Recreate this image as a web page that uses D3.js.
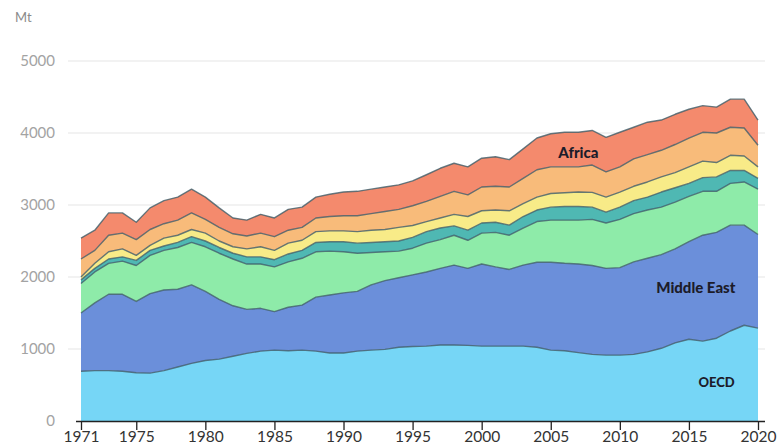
<!DOCTYPE html>
<html>
<head>
<meta charset="utf-8">
<script src="https://cdn.jsdelivr.net/npm/d3@7"></script>
<style>
    body { margin: 0; background: #fff; }
    svg { display: block; font-family: Lato, "Open Sans", sans-serif; }
</style>
</head>
<body>
<svg width="777" height="446"></svg>
<script>
// Crude oil production by region, Mt
var years = d3.range(1971, 2021);

var oecd = [690, 700, 700, 690, 670, 665, 700, 750, 800, 840, 860, 900, 940, 970, 985, 975, 985, 970, 945, 945,
    970, 985, 995, 1025, 1035, 1040, 1055, 1055, 1050, 1040, 1040, 1040, 1040, 1025, 985, 975, 950, 925, 915, 915,
    925, 960, 1010, 1085, 1135, 1110, 1150, 1250, 1330, 1290];
var middleEast = [810, 940, 1060, 1070, 990, 1105, 1120, 1080, 1090, 960, 830, 700, 610, 595, 535, 605, 625, 750, 805, 835,
    830, 905, 955, 965, 995, 1030, 1065, 1110, 1070, 1140, 1100, 1065, 1125, 1180, 1220, 1215, 1230, 1235, 1205, 1215,
    1285, 1300, 1300, 1305, 1355, 1470, 1470, 1470, 1390, 1300];
var eurasia = [410, 430, 430, 460, 500, 530, 550, 580, 590, 620, 640, 650, 630, 615, 620, 630, 650, 630, 610, 570,
    530, 450, 400, 370, 370, 400, 400, 415, 390, 430, 480, 475, 515, 565, 585, 600, 610, 640, 630, 670,
    670, 670, 660, 650, 630, 610, 570, 580, 600, 630];
var china = [50, 50, 60, 60, 70, 70, 60, 70, 80, 80, 80, 80, 100, 100, 100, 110, 110, 130, 130, 140,
    140, 140, 140, 140, 150, 160, 160, 130, 140, 140, 140, 140, 160, 160, 180, 190, 190, 170, 150, 170,
    180, 180, 210, 200, 180, 190, 200, 180, 160, 150];
var asia = [40, 70, 100, 110, 70, 70, 110, 100, 100, 110, 90, 90, 110, 140, 130, 150, 140, 150, 150, 150,
    160, 170, 170, 190, 165, 140, 140, 160, 190, 170, 170, 200, 180, 180, 190, 190, 200, 205, 210, 210,
    200, 210, 210, 210, 230, 230, 200, 210, 200, 160];
var americas = [250, 180, 230, 220, 220, 220, 200, 210, 230, 190, 190, 180, 180, 190, 190, 180, 180, 190, 200, 210,
    220, 230, 250, 250, 275, 280, 300, 320, 300, 330, 330, 330, 350, 380, 370, 360, 350, 380, 350, 350,
    380, 380, 370, 390, 400, 400, 410, 390, 390, 300];
var africa = [290, 280, 310, 280, 240, 300, 320, 320, 330, 310, 270, 220, 220, 260, 260, 290, 280, 290, 310, 330,
    340, 340, 340, 340, 345, 370, 390, 390, 390, 400, 410, 380, 410, 440, 460, 480, 480, 480, 480, 480,
    440, 450, 420, 420, 400, 370, 360, 390, 400, 350];

var seriesKeys = ["OECD", "Middle East", "Non-OECD Europe and Eurasia", "China", "Non-OECD Asia", "Non-OECD Americas", "Africa"];
var seriesValues = [oecd, middleEast, eurasia, china, asia, americas, africa];
var seriesColors = ["#76d6f6", "#6b8fda", "#8eeba9", "#4fb8b3", "#f8eb88", "#f8bb7a", "#f48a6d"];

var xTicks = [1971, 1975, 1980, 1985, 1990, 1995, 2000, 2005, 2010, 2015, 2020];
var yTicks = [0, 1000, 2000, 3000, 4000, 5000];

// Labels placed on the areas: [series, year, value]
var areaLabels = [["Africa", 2007, 3650], ["Middle East", 2015.5, 1780], ["OECD", 2017, 472]];

var table = years.map(function(year, i) {
    var row = { year: year };
    seriesKeys.forEach(function(key, k) {
        row[key] = seriesValues[k][i];
    });
    return row;
});

var svg = d3.select("svg");

var x = d3.scaleLinear().domain([1971, 2020]).range([81, 758]);
var y = d3.scaleLinear().domain([0, 5000]).range([421, 61]);

// Gridlines
svg.append("g")
    .selectAll("line")
    .data(yTicks.slice(1))
    .join("line")
    .attr("x1", 68)
    .attr("x2", 765)
    .attr("y1", function(d) { return y(d); })
    .attr("y2", function(d) { return y(d); })
    .attr("stroke", "#e6e6e6")
    .attr("stroke-width", 1.2);

// Y labels
svg.append("g")
    .selectAll("text")
    .data(yTicks)
    .join("text")
    .attr("x", 55)
    .attr("y", function(d) { return y(d); })
    .attr("dy", "0.36em")
    .attr("text-anchor", "end")
    .attr("fill", "#a3a3a3")
    .attr("font-size", 15)
    .text(function(d) { return d; });

svg.append("text")
    .attr("x", 15)
    .attr("y", 22)
    .attr("fill", "#8a8a8a")
    .attr("font-size", 13)
    .text("Mt");

var stack = d3.stack().keys(seriesKeys);
var layers = stack(table);

var area = d3.area()
    .x(function(d) { return x(d.data.year); })
    .y0(function(d) { return y(d[0]); })
    .y1(function(d) { return y(d[1]); });

var topLine = d3.line()
    .x(function(d) { return x(d.data.year); })
    .y(function(d) { return y(d[1]); });

svg.append("g")
    .selectAll("path")
    .data(layers)
    .join("path")
    .attr("fill", function(d, i) { return seriesColors[i]; })
    .attr("d", area);

svg.append("g")
    .selectAll("path")
    .data(layers)
    .join("path")
    .attr("fill", "none")
    .attr("stroke", "#3f5d68")
    .attr("stroke-opacity", 0.8)
    .attr("stroke-width", 1.4)
    .attr("stroke-linejoin", "round")
    .attr("d", topLine);

// X axis
var xAxis = d3.axisBottom(x)
    .tickValues(xTicks)
    .tickSize(9)
    .tickPadding(1)
    .tickFormat(d3.format("d"));

var axisG = svg.append("g")
    .attr("transform", "translate(0,421)")
    .call(xAxis);
axisG.select(".domain").remove();
axisG.selectAll(".tick line").attr("stroke", "#222").attr("stroke-width", 1.3);
axisG.selectAll(".tick text")
    .attr("fill", "#333")
    .attr("font-size", 15.5)
    .attr("font-family", "Lato, sans-serif");

svg.append("line")
    .attr("x1", 76)
    .attr("x2", 765)
    .attr("y1", 421.5)
    .attr("y2", 421.5)
    .attr("stroke", "#222")
    .attr("stroke-width", 1.5);

svg.append("g")
    .selectAll("text")
    .data(areaLabels)
    .join("text")
    .attr("x", function(d) { return x(d[1]); })
    .attr("y", function(d) { return y(d[2]); })
    .attr("text-anchor", "middle")
    .attr("font-weight", 900)
    .attr("font-size", function(d) { return d[0] == "OECD" ? 13 : 15; })
    .attr("fill", "#1c1c2a")
    .text(function(d) { return d[0]; });
</script>
</body>
</html>
